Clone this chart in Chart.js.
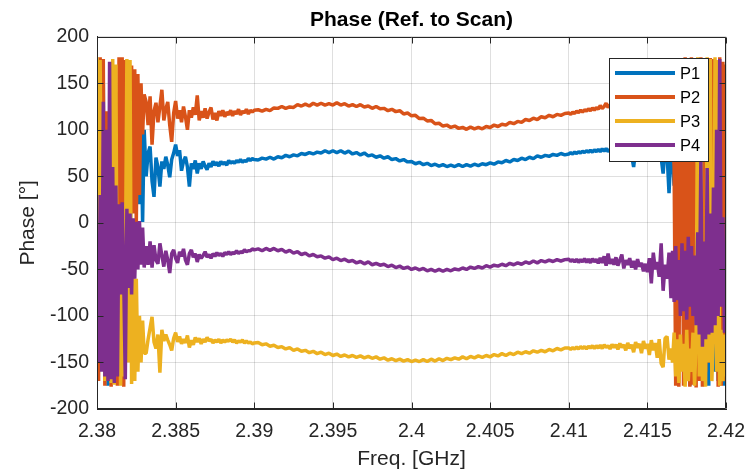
<!DOCTYPE html>
<html>
<head>
<meta charset="utf-8">
<title>Phase (Ref. to Scan)</title>
<script src="https://cdn.jsdelivr.net/npm/chart.js@4.4.1/dist/chart.umd.min.js"></script>
<style>
  html, body { margin: 0; padding: 0; background: #ffffff; }
  canvas { display: block; }
</style>
</head>
<body>
<canvas id="phaseChart" width="756" height="472"></canvas>
<script>
// Frequency sweep [GHz]: dense sampling at the band edges, coarser in the middle.
const freqGHz = [
  // 2.3800 - 2.3830
  2.3800,2.3801,2.3802,2.3803,2.3804,2.3805,2.3806,2.3807,2.3808,2.3809,2.3810,
  2.3811,2.3812,2.3813,2.3814,2.3815,2.3816,2.3817,2.3818,2.3819,2.3820,
  2.3821,2.3822,2.3823,2.3824,2.3825,2.3826,2.3827,2.3828,2.3829,2.3830,
  // 2.383125 - 2.3900
  2.383125,2.38325,2.383375,2.3835,2.383625,2.38375,2.383875,2.384,
  2.384125,2.38425,2.384375,2.3845,2.384625,2.38475,2.384875,2.385,
  2.385125,2.38525,2.385375,2.3855,2.385625,2.38575,2.385875,2.386,
  2.386125,2.38625,2.386375,2.3865,2.386625,2.38675,2.386875,2.387,
  2.387125,2.38725,2.387375,2.3875,2.387625,2.38775,2.387875,2.388,
  2.388125,2.38825,2.388375,2.3885,2.388625,2.38875,2.388875,2.389,
  2.389125,2.38925,2.389375,2.3895,2.389625,2.38975,2.389875,2.390,
  // 2.39025 - 2.40975
  2.39025,2.3905,2.39075,2.391, 2.39125,2.3915,2.39175,2.392,
  2.39225,2.3925,2.39275,2.393, 2.39325,2.3935,2.39375,2.394,
  2.39425,2.3945,2.39475,2.395, 2.39525,2.3955,2.39575,2.396,
  2.39625,2.3965,2.39675,2.397, 2.39725,2.3975,2.39775,2.398,
  2.39825,2.3985,2.39875,2.399, 2.39925,2.3995,2.39975,2.400,
  2.40025,2.4005,2.40075,2.401, 2.40125,2.4015,2.40175,2.402,
  2.40225,2.4025,2.40275,2.403, 2.40325,2.4035,2.40375,2.404,
  2.40425,2.4045,2.40475,2.405, 2.40525,2.4055,2.40575,2.406,
  2.40625,2.4065,2.40675,2.407, 2.40725,2.4075,2.40775,2.408,
  2.40825,2.4085,2.40875,2.409, 2.40925,2.4095,2.40975,
  // 2.4100 - 2.4165
  2.410,2.410125,2.41025,2.410375,2.4105,2.410625,2.41075,2.410875,
  2.411,2.411125,2.41125,2.411375,2.4115,2.411625,2.41175,2.411875,
  2.412,2.412125,2.41225,2.412375,2.4125,2.412625,2.41275,2.412875,
  2.413,2.413125,2.41325,2.413375,2.4135,2.413625,2.41375,2.413875,
  2.414,2.414125,2.41425,2.414375,2.4145,2.414625,2.41475,2.414875,
  2.415,2.415125,2.41525,2.415375,2.4155,2.415625,2.41575,2.415875,
  2.416,2.416125,2.41625,2.416375,2.4165,
  // 2.4166 - 2.4200
  2.4166,2.4167,2.4168,2.4169,2.4170,2.4171,2.4172,2.4173,2.4174,2.4175,
  2.4176,2.4177,2.4178,2.4179,2.4180,2.4181,2.4182,2.4183,2.4184,2.4185,
  2.4186,2.4187,2.4188,2.4189,2.4190,2.4191,2.4192,2.4193,2.4194,2.4195,
  2.4196,2.4197,2.4198,2.4199,2.4200
];

// Phase of each port relative to the scan [deg], one row per frequency block above
const phaseP1 = [
  170,-120,100,-80,150,-150,60,-175,20,-170,120,-60,140,-100,80,-150,50,-90,100,-40,60,-30,80,20,90,40,80,20,100,1,100,
  50,75,82,45,28,70,60,39,66,58, 71,62,49,68,75,84,72,78,56,66, 71,60,39,64,58,67,53,64,58,66,
  61,57,64,60,66,62,65,61,66,63, 65,62,67,64,66,64,67,65,68,65, 67,66,69,67,69,68,
  67.5,69.5,68.5,70.5,68.5,71,70,72.5,71,73, 72,74.5,73.5,75.5,74,76,75,77.5,75.5,77.5,
  75.5,77.5,75,77,74,75.5,73,75,72,73, 70.5,72,69.5,71,68,69,66.5,68,65.5,66,
  63.5,65,62.5,64,61.5,63,61,62.5,60.5,62, 60.5,62.5,60.5,62.5,61,63,61.5,63.5,62.5,64.5,
  63,65.5,64.5,67,65.5,68,67,69.5,68,70.5, 69,72,70.5,72.5,71.5,73.5,72.5,74.5,73,
  74,75.5,74,76,74.5,76.5,75,77,75.5,77.5, 76,78,76,78.5,76.5,79,76.5,79.5,77,80,
  76.5,79,77,80.5,76,79,77,81,75,79, 76,80,72,60,78,82,73,79,70,81,
  74,83,68,80,72,66,82,70,53,79, 75,32,78,
  70,40,75,30,70,19,80,-60,150,-170,120,-175,160,-120,170,-150,100,-170,170,-100,175,-165,130,-175,160,-130,170,-160,150,-170,120,-150,170,-175,160
];
const phaseP2 = [
  60,-170,178,-40,176,-175,120,-160,40,-176,90,-150,30,-175,178,20,178,-176,175,25,170,-20,169,10,165,0,160,30,150,95,138,
  130,105,136,84,120,129,108,125,143,110, 122,130,105,87,118,131,112,121,108,125, 114,100,121,113,124,116,137,110,120,113,
  123,112,119,124,111,118,110,120,115,121, 114,119,116,121,115,120,117,122,116,120, 118,122,117,121,119,121,
  121.5,120,122,120.5,123.5,123,125,123,124.5,124, 127,125.5,127.5,125.5,128.5,126.5,128.5,126.5,128,126.5,
  129,126.5,128,125.5,127,125,127,124.5,125.5,123, 125,122.5,123,120.5,122,119.5,120.5,117,118,115,
  115.5,112,112.5,109.5,110,106.5,107,104,105,102.5, 104,101.5,102.5,100.5,103,101,102.5,101,103.5,102.5,
  105,103.5,106,105,108,106.5,109,108,111,110, 112.5,111,114,113,115.5,114,116.5,115.5,117.5,
  118,116.5,119,117.5,120,118.5,121,119,121.5,120, 122.5,120.5,123.5,121,124,122,126,123,125,128.5,
  124,127,125,129,124.5,128,126,131,125,129, 127,133,124,130,127,134,123,131,128,136,
  122,132,126,138,120,134,128,140,118,136, 125,142,120,
  100,60,-175,69,-176,110,120,-175,178,-170,176,-176,178,-174,177,-177,175,-170,178,-176,170,-160,120,-150,177,-120,176,-90,100,-176,178,-175,173,-170,170
];
const phaseP3 = [
  178,-110,175,-60,40,-170,-20,-150,-90,-172,176,-174,170,-160,-60,-175,-50,-165,-70,176,-150,175,-173,-55,-170,-60,-160,-100,-150,-105,-140,
  -140,-125,-113,-101,-128,-135,-120,-161,-115,-127, -120,-126,-131,-137,-124,-118,-128,-122,-130,-125, -129,-121,-134,-126,-131,-123,-128,-124,-130,-125,
  -128,-123,-127,-125,-129,-126,-128,-125,-129,-126, -128,-126,-127,-125,-128,-126,-129,-127,-128,-126, -129,-127,-129,-128,-130,-129,
  -128.5,-131,-130,-132.5,-131.5,-134,-133,-135.5,-134,-137, -135.5,-138,-137,-139.5,-138,-140.5,-139,-141.5,-140,-142.5,
  -141,-143.5,-142,-144,-142.5,-144.5,-143,-145,-143.5,-145.5, -144,-146.5,-145,-147.5,-146,-148,-146.5,-148.5,-147,-149,
  -147.5,-149,-147,-149,-146.5,-148.5,-146,-148,-145.5,-147, -145,-146.5,-144,-146,-143.5,-145,-143,-144.5,-142.5,-144,
  -141.5,-143,-140.5,-142.5,-140,-141.5,-139,-140.5,-138.5,-140, -137.5,-139,-137,-138.5,-136,-137.5,-135,-136.5,-134.5,
  -134.5,-136,-134,-135.5,-133.5,-135.5,-133,-135,-133,-135.5, -132.5,-134.5,-132,-135,-132,-134.5,-131.5,-135,-131,-134,
  -132,-135.5,-130.5,-134,-131,-136,-129.5,-134,-131,-137, -129,-135,-131,-139,-128,-134,-130,-140,-127,-135,
  -130,-142,-126,-137,-129,-145,-125,-151,-155,-124, -122,-147,-135,
  -150,-118,-165,-125,-172,-120,-160,-130,-176,-115,-170,-135,-160,-118,-175,-125,178,-165,175,-170,-120,-176,178,-150,176,-170,-110,178,-160,175,-175,-115,-170,-120,-165
];
const phaseP4 = [
  -20,-150,30,-160,130,-165,100,-170,173,-168,60,-172,40,-165,20,-77,22,-60,-168,15,-70,10,-77,5,-60,1,-50,2,-45,-5,-48,
  -25,-45,-20,-48,-24,-40,-44,-22,-35,-47, -30,-40,-54,-33,-29,-38,-43,-31,-36,-28, -40,-45,-33,-29,-37,-33,-42,-34,-38,-35,
  -31,-37,-34,-38,-33,-36,-32,-35,-33,-36, -32,-34,-31,-34,-32,-33,-30,-33,-31,-32, -29,-31,-30,-30,-28,-29,
  -28,-30,-27.5,-29.5,-27.5,-30,-28.5,-31.5,-29.5,-32.5, -31,-34,-32.5,-35.5,-34,-36.5,-35.5,-38,-36.5,-39.5,
  -38,-40.5,-39,-41.5,-40.5,-43,-41.5,-44,-42,-45, -43.5,-45.5,-44.5,-47,-45.5,-48,-46.5,-49,-47.5,-50,
  -48.5,-50.5,-49,-51.5,-50,-52,-50,-52,-50,-51.5, -49.5,-50.5,-48.5,-50,-47.5,-49,-47,-48.5,-46,-47.5,
  -45.5,-46.5,-44.5,-46,-43.5,-45,-43,-44.5,-42,-43.5, -41,-43,-40.5,-42,-40,-41.5,-39.5,-41,-39.5,
  -39,-41.5,-39.5,-42,-39,-42.5,-39.5,-42,-38.5,-42.5, -39,-43,-38.5,-42,-39,-43.5,-37.5,-43,-36,-46,
  -33,-44,-39,-45,-37,-46,-40,-34,-49,-40, -45,-38,-48,-41,-50,-39,-47,-43,-52,-44,
  -53,-38,-65,-32,-50,-42,-58,-22,-73,-45, -60,-32,-81,
  -30,-85,-25,-83,-40,-100,-22,-95,-30,-104,-15,-90,-25,-100,-35,-110,-10,-120,70,-133,-20,-125,59,-120,10,-118,38,-110,100,-100,176,-90,6,-118,-40
];

const seriesNames = ['P1', 'P2', 'P3', 'P4'];
const seriesColors = ['#0072BD', '#D95319', '#EDB120', '#7E2F8E'];
const xTicks = [2.38, 2.385, 2.39, 2.395, 2.4, 2.405, 2.41, 2.415, 2.42];
const yTicks = [-200, -150, -100, -50, 0, 50, 100, 150, 200];

const FONT = "'Liberation Sans', Arial, Helvetica, sans-serif";
const AXIS_COLOR = '#262626';

function toPoints(values) {
  return freqGHz.map((f, i) => ({ x: f, y: values[i] }));
}

const seriesValues = [phaseP1, phaseP2, phaseP3, phaseP4];
const datasets = seriesValues.map((vals, k) => ({
  label: seriesNames[k],
  data: toPoints(vals),
  borderColor: seriesColors[k],
  backgroundColor: seriesColors[k],
  borderWidth: 3.5,
  borderJoinStyle: 'bevel',
  pointRadius: 0,
  tension: 0,
  fill: false,
  // later ports are painted over earlier ones
  order: seriesNames.length - k
}));

// Box around the axes, inward tick marks, title and legend
const axesDecor = {
  id: 'axesDecor',
  afterDatasetsDraw(chart) {
    const { ctx, chartArea: a, scales } = chart;
    const L = Math.round(a.left) + 0.5, R = Math.round(a.right) - 0.5;
    const T = Math.round(a.top) + 0.5, B = Math.round(a.bottom) - 0.5;
    ctx.save();
    ctx.strokeStyle = AXIS_COLOR;
    ctx.lineWidth = 1;
    ctx.beginPath();
    ctx.rect(L, T, R - L, B - T);
    const tickLen = 6;
    xTicks.forEach(v => {
      const px = Math.round(scales.x.getPixelForValue(v)) + 0.5;
      ctx.moveTo(px, B); ctx.lineTo(px, B - tickLen);
      ctx.moveTo(px, T); ctx.lineTo(px, T + tickLen);
    });
    yTicks.forEach(v => {
      const py = Math.round(scales.y.getPixelForValue(v)) + 0.5;
      ctx.moveTo(L, py); ctx.lineTo(L + tickLen, py);
      ctx.moveTo(R, py); ctx.lineTo(R - tickLen, py);
    });
    ctx.stroke();
    ctx.restore();
  },
  afterDraw(chart) {
    const { ctx, chartArea: a } = chart;
    ctx.save();
    // title
    ctx.fillStyle = '#000000';
    ctx.font = 'bold 21px ' + FONT;
    ctx.textAlign = 'center';
    ctx.textBaseline = 'middle';
    ctx.fillText('Phase (Ref. to Scan)', (a.left + a.right) / 2, 20);

    // legend box
    const bx = 609.5, by = 58.5, bw = 99, bh = 103;
    ctx.fillStyle = '#ffffff';
    ctx.fillRect(bx, by, bw, bh);
    ctx.strokeStyle = AXIS_COLOR;
    ctx.lineWidth = 1;
    ctx.strokeRect(bx, by, bw, bh);
    const rows = [73, 97, 121, 145];
    ctx.font = '16.5px ' + FONT;
    ctx.textAlign = 'left';
    ctx.textBaseline = 'middle';
    chart.data.datasets.forEach((ds, k) => {
      ctx.strokeStyle = ds.borderColor;
      ctx.lineWidth = 4;
      ctx.beginPath();
      ctx.moveTo(615, rows[k]);
      ctx.lineTo(675, rows[k]);
      ctx.stroke();
      ctx.fillStyle = '#000000';
      ctx.fillText(ds.label, 680, rows[k] + 1);
    });
    ctx.restore();
  }
};

new Chart(document.getElementById('phaseChart'), {
  type: 'line',
  data: { datasets },
  options: {
    responsive: false,
    devicePixelRatio: 1,
    animation: false,
    events: [],
    parsing: false,
    normalized: true,
    layout: { padding: { left: 0, right: 28.5, top: 36.7, bottom: 0 } },
    plugins: {
      legend: { display: false },
      tooltip: { enabled: false },
      title: { display: false }
    },
    scales: {
      x: {
        type: 'linear',
        min: 2.38,
        max: 2.42,
        afterBuildTicks: s => { s.ticks = xTicks.map(v => ({ value: v })); },
        afterFit: s => { s.height = 63; },
        ticks: {
          callback: v => String(+Number(v).toFixed(4)),
          font: { family: FONT, size: 19.5 },
          color: AXIS_COLOR,
          padding: 11,
          maxRotation: 0,
          autoSkip: false
        },
        grid: { color: 'rgba(38,38,38,0.15)', lineWidth: 1, drawTicks: false },
        border: { display: true, color: AXIS_COLOR, width: 1 },
        title: {
          display: true,
          text: 'Freq. [GHz]',
          font: { family: FONT, size: 21 },
          color: AXIS_COLOR,
          padding: { top: 0, bottom: 0 }
        }
      },
      y: {
        type: 'linear',
        min: -200,
        max: 200,
        afterBuildTicks: s => { s.ticks = yTicks.map(v => ({ value: v })); },
        afterFit: s => { s.width = 97; },
        ticks: {
          callback: v => String(v),
          font: { family: FONT, size: 19.5 },
          color: AXIS_COLOR,
          padding: 8,
          autoSkip: false
        },
        grid: { color: 'rgba(38,38,38,0.15)', lineWidth: 1, drawTicks: false },
        border: { display: true, color: AXIS_COLOR, width: 1 },
        title: {
          display: true,
          text: 'Phase [°]',
          font: { family: FONT, size: 21 },
          color: AXIS_COLOR,
          padding: { top: 15.5, bottom: 0 }
        }
      }
    }
  },
  plugins: [axesDecor]
});
</script>
</body>
</html>
